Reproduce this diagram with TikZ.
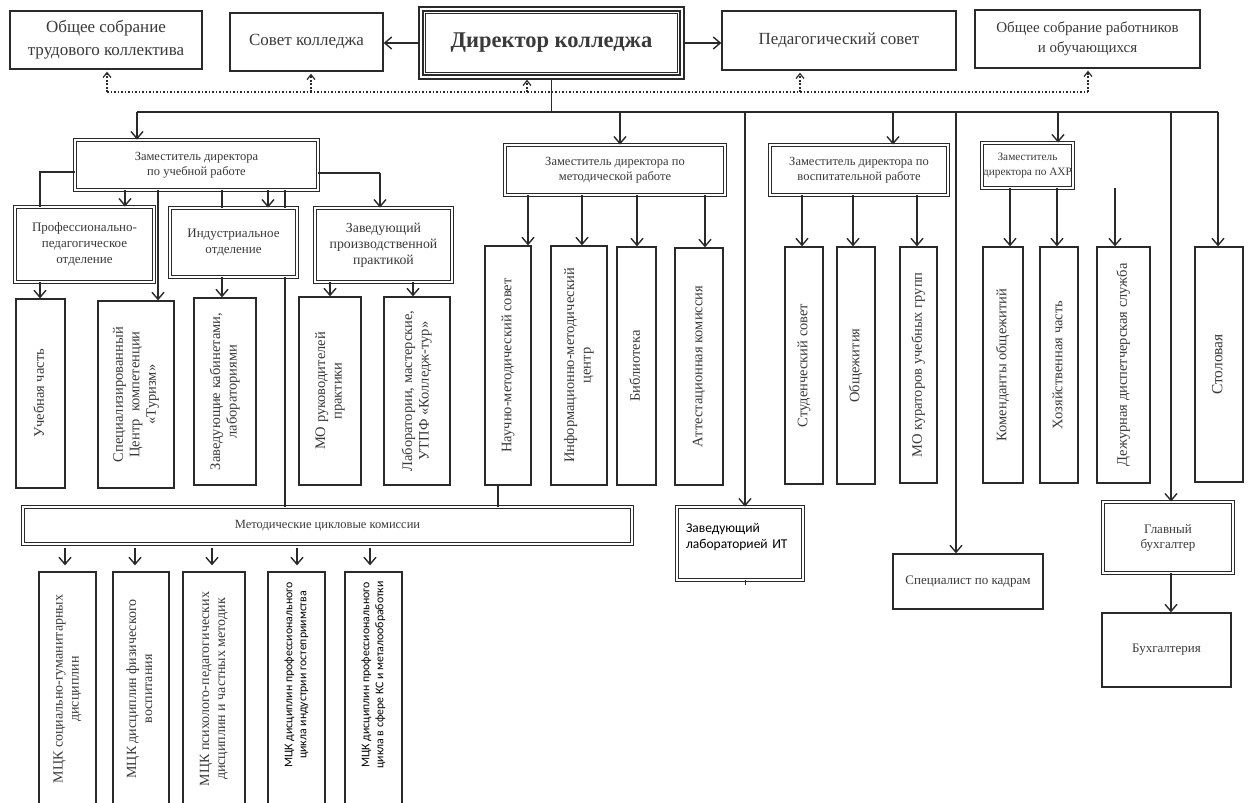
\documentclass[tikz,border=0pt]{standalone}
\usepackage{fontspec}
\setmainfont{Liberation Serif}
\newfontfamily\sansf{Carlito}
\usetikzlibrary{arrows.meta}
\definecolor{lc}{HTML}{2A2A2A}
\definecolor{tc}{HTML}{3A3A3A}
\newcommand{\fsz}[2]{\fontsize{#1}{#2}\selectfont}
\newcommand{\vtx}[1]{\rotatebox{90}{\begin{tabular}{@{}c@{}}#1\end{tabular}}}
\newcommand{\vtxup}[2]{\rotatebox{90}{\hspace*{#1}\begin{tabular}{@{}c@{}}#2\end{tabular}}}
\newcommand{\bx}[7]{%
  \pgfmathsetmacro{\myw}{#5-#3}\pgfmathsetmacro{\myh}{#6-#4}%
  \pgfmathsetmacro{\mycx}{(#3+#5)/2}\pgfmathsetmacro{\mycy}{(#4+#6)/2}%
  \node[#1, minimum width=\myw pt, minimum height=\myh pt] (#2) at (\mycx,\mycy) {#7};}
\begin{document}
\begin{tikzpicture}[x=1pt,y=-1pt,
  bx/.style={draw=lc, line width=1.3pt, inner sep=1pt, align=center, text=tc},
  dbx/.style={bx, double, double distance=2pt, line width=0.9pt},
  top/.style={font=\fsz{17}{23}},
  zam/.style={font=\fsz{12.5}{15}},
  vert/.style={font=\fsz{14.5}{16.5}},
  sansv/.style={font=\sansf\fsz{11.8}{14}, text=black},
  conn/.style={draw=lc, line width=1.4pt},
  arr/.style={conn, -{Straight Barb[length=7pt,width=12pt]}},
  dots/.style={draw=lc, line width=1.8pt, dash pattern=on 1.6pt off 1.9pt},
  darr/.style={dots, -{Straight Barb[length=5pt,width=8pt,line width=1.2pt]}}
]
\clip (0,0) rectangle (1251,803);
\fill[white] (0,0) rectangle (1251,803);

% ---- top row
\bx{bx,top}{obs}{10}{11}{202}{69}{Общее собрание\\трудового коллектива}
\bx{bx,top}{sovet}{230}{13}{383}{71}{Совет колледжа}
\bx{dbx,line width=1.3pt,double distance=2.5pt,font=\bfseries\fsz{22.5}{26}}{dir}{421}{9}{682}{77}{Директор колледжа}
\draw[lc,line width=0.8pt] ([shift={(5.5pt,-5.5pt)}]dir.north west) rectangle ([shift={(-5.5pt,5.5pt)}]dir.south east);
\bx{bx,top}{ped}{722}{11}{956}{70}{Педагогический совет}
\bx{bx,top,font=\fsz{15}{20}}{rab}{975}{10}{1200}{68}{Общее собрание работников\\и обучающихся}

\draw[arr] (dir.west) -- (dir.west -| sovet.east);
\draw[arr] (dir.east) -- (dir.east -| ped.west);

% dotted feedback line
\coordinate (dL) at (107,92);
\coordinate (d2) at (311,92);
\coordinate (d3) at (527,92);
\coordinate (d4) at (800,92);
\coordinate (dR) at (1088,92);
\draw[dots] (dL) -- (dR);
\draw[darr, shorten >=2pt] (dL) -- (dL |- obs.south);
\draw[darr, shorten >=2pt] (d2) -- (d2 |- sovet.south);
\draw[darr, shorten >=2pt] (d3) -- (d3 |- dir.south);
\draw[darr, shorten >=2pt] (d4) -- (d4 |- ped.south);
\draw[darr, shorten >=2pt] (dR) -- (dR |- rab.south);

% ---- bus
\coordinate (busL) at (137,112);
\coordinate (busR) at (1218,112);
\coordinate (b620) at (620,112);
\coordinate (b745) at (745,112);
\coordinate (b893) at (893,112);
\coordinate (b956) at (956,112);
\coordinate (b1058) at (1058,112);
\coordinate (b1171) at (1171,112);
\draw[conn] (dir.south) -- (dir.south |- busL);
\draw[conn] (busL) -- (busR);

% ---- level 2
\bx{dbx,zam}{zu}{75}{140}{318}{190}{Заместитель директора\\по учебной работе}
\bx{dbx,zam}{zm}{505}{145}{725}{195}{Заместитель директора по\\методической работе}
\bx{dbx,zam}{zv}{770}{145}{948}{195}{Заместитель директора по\\воспитательной работе}
\bx{dbx,font=\fsz{11.3}{15}}{ahr}{982}{143}{1073}{188}{Заместитель\\директора по АХР}

\draw[arr] (busL) -- (busL |- zu.north);
\draw[arr] (b620) -- (b620 |- zm.north);
\draw[arr] (b893) -- (b893 |- zv.north);
\draw[arr] (b1058) -- (b1058 |- ahr.north);

% ---- under Зам по учебной работе
\bx{dbx,font=\fsz{13}{16}}{pp}{15}{207}{154}{282}{Профессионально-\\педагогическое\\отделение}
\bx{dbx,font=\fsz{13}{16}}{ind}{170}{208}{297}{277}{Индустриальное\\отделение}
\bx{dbx,font=\fsz{13.8}{16}}{zp}{315}{208}{452}{282}{Заведующий\\производственной\\практикой}

\bx{bx,vert}{uch}{16}{299}{65}{488}{\vtx{Учебная часть}}
\bx{bx,vert}{spc}{98}{301}{174}{488}{\vtx{Специализированный\\Центр\ \ компетенции\\«Туризм»}}
\bx{bx,vert}{zk}{194}{298}{256}{485}{\vtx{Заведующие кабинетами,\\лабораториями}}
\bx{bx,vert,font=\fsz{14.5}{16.5}}{mo}{299}{297}{361}{485}{\vtx{МО руководителей\\практики}}
\bx{bx,vert}{lab}{384}{297}{450}{485}{\vtx{Лаборатории, мастерские,\\УТПФ «Колледж-тур»}}

\coordinate (c40) at (40,172);
\coordinate (c380) at (380,173);
\coordinate (v125) at (125,0);
\coordinate (v158) at (158,0);
\coordinate (v222) at (222,0);
\coordinate (v268) at (268,0);
\coordinate (v285) at (285,0);
\coordinate (v330) at (330,0);
\coordinate (v413) at (413,0);
\draw[conn] (c40 -| zu.west) -- (c40) -- (c40 |- pp.north);
\draw[arr] (zu.south -| v125) -- (pp.north -| v125);
\draw[arr] (zu.south -| v158) -- (spc.north -| v158);
\draw[conn] (zu.south -| v222) -- (ind.north -| v222);
\draw[arr] (zu.south -| v268) -- (ind.north -| v268);
\draw[conn] (zu.south -| v285) -- (ind.north -| v285);
\draw[conn] (c380 -| zu.east) -- (c380);
\draw[arr] (c380) -- (c380 |- zp.north);
\draw[arr] (c40 |- pp.south) -- (c40 |- uch.north);
\draw[arr] (ind.south -| v222) -- (zk.north -| v222);
\draw[arr] (zp.south -| v330) -- (mo.north -| v330);
\draw[arr] (zp.south -| v413) -- (lab.north -| v413);

% ---- Методические цикловые комиссии
\bx{dbx,zam}{mck}{23}{507}{632}{544}{Методические цикловые комиссии}
\draw[conn] (ind.south -| v285) -- (mck.north -| v285);

\bx{bx,vert,font=\fsz{14}{16}}{m1}{39}{572}{96}{806}{\vtx{МЦК социально-гуманитарных\\дисциплин}}
\bx{bx,vert,font=\fsz{14}{16}}{m2}{113}{572}{169}{806}{\vtx{МЦК дисциплин физического\\воспитания}}
\bx{bx,vert,font=\fsz{14}{16}}{m3}{183}{572}{245}{806}{\vtx{МЦК психолого-педагогических\\дисциплин и частных методик}}
\bx{bx,sansv}{m4}{268}{572}{325}{806}{\vtxup{28pt}{МЦК дисциплин профессионального\\цикла индустрии гостеприимства}}
\bx{bx,sansv}{m5}{345}{572}{402}{806}{\vtxup{28pt}{МЦК дисциплин профессионального\\цикла в сфере КС и металообработки}}

\coordinate (v65) at (65,0);
\coordinate (v135) at (135,0);
\coordinate (v212) at (212,0);
\coordinate (v297) at (297,0);
\coordinate (v370) at (370,0);
\foreach \v/\m in {v65/m1,v135/m2,v212/m3,v297/m4,v370/m5}
  \draw[arr, shorten <=4pt, shorten >=6pt] (mck.south -| \v) -- (\m.north -| \v);

% ---- under Зам по методической работе
\bx{bx,vert}{nms}{485}{246}{531}{485}{\vtx{Научно-методический совет}}
\bx{bx,vert}{imc}{551}{246}{607}{485}{\vtx{Информационно-методический\\центр}}
\bx{bx,vert}{bib}{617}{247}{656}{485}{\vtx{Библиотека}}
\bx{bx,vert}{att}{675}{248}{723}{485}{\vtx{Аттестационная комиссия}}
\coordinate (v528) at (528,0);
\coordinate (v582) at (582,0);
\coordinate (v637) at (637,0);
\coordinate (v705) at (705,0);
\coordinate (v498) at (498,0);
\draw[arr] (zm.south -| v528) -- (nms.north -| v528);
\draw[arr] (zm.south -| v582) -- (imc.north -| v582);
\draw[arr] (zm.south -| v637) -- (bib.north -| v637);
\draw[arr] (zm.south -| v705) -- (att.north -| v705);
\draw[conn] (nms.south -| v498) -- (mck.north -| v498);

% ---- Заведующий лабораторией ИТ
\bx{dbx,font=\sansf\fsz{13.5}{15.5},text=black,align=left,text width=108pt}{it}{677}{507}{803}{580}{Заведующий\\лабораторией ИТ\\\mbox{}}
\draw[arr] (b745) -- (b745 |- it.north);
\draw[conn, line width=1pt] (it.south -| b745) -- ++(0,5);

% ---- under Зам по воспитательной работе
\bx{bx,vert}{ss}{785}{247}{823}{484}{\vtx{Студенческий совет}}
\bx{bx,vert}{ob}{837}{247}{875}{484}{\vtx{Общежития}}
\bx{bx,vert}{mok}{900}{247}{937}{483}{\vtx{МО кураторов учебных групп}}
\coordinate (v802) at (802,0);
\coordinate (v853) at (853,0);
\coordinate (v917) at (917,0);
\draw[arr] (zv.south -| v802) -- (ss.north -| v802);
\draw[arr] (zv.south -| v853) -- (ob.north -| v853);
\draw[arr] (zv.south -| v917) -- (mok.north -| v917);

% ---- Специалист по кадрам
\bx{bx,font=\fsz{13}{15}}{sk}{893}{554}{1043}{609}{Специалист по кадрам}
\draw[arr] (b956) -- (b956 |- sk.north);

% ---- under Зам по АХР
\bx{bx,vert}{kom}{983}{247}{1023}{483}{\vtx{Коменданты общежитий}}
\bx{bx,vert}{hoz}{1040}{247}{1078}{483}{\vtx{Хозяйственная часть}}
\bx{bx,vert}{dd}{1097}{247}{1150}{483}{\vtx{Дежурная диспетчерская служба}}
\coordinate (v1010) at (1010,0);
\coordinate (v1057) at (1057,0);
\coordinate (v1115) at (1115,0);
\draw[arr] (ahr.south -| v1010) -- (kom.north -| v1010);
\draw[arr] (ahr.south -| v1057) -- (hoz.north -| v1057);
\draw[arr] (ahr.south -| v1115) -- (dd.north -| v1115);

% ---- Столовая
\bx{bx,vert,font=\fsz{15.5}{17}}{st}{1195}{247}{1243}{482}{\vtx{Столовая}}
\draw[arr] (busR) -- (busR |- st.north);

% ---- Бухгалтерия
\bx{dbx,font=\fsz{13}{15}}{gb}{1103}{502}{1233}{573}{Главный\\бухгалтер}
\bx{bx,font=\fsz{13}{15}}{buh}{1102}{613}{1231}{687}{Бухгалтерия}
\draw[arr] (b1171) -- (b1171 |- gb.north);
\draw[arr] (gb.south -| b1171) -- (buh.north -| b1171);
\end{tikzpicture}
\end{document}
